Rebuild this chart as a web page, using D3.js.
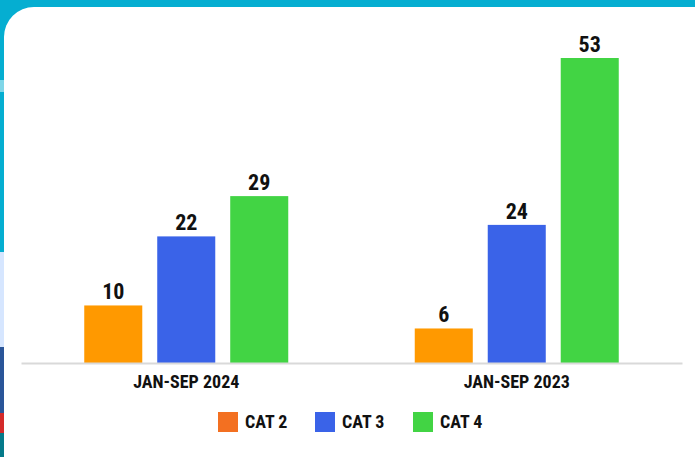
<!DOCTYPE html>
<html>
<head>
<meta charset="utf-8">
<script src="https://cdn.jsdelivr.net/npm/d3@7"></script>
<style>
  html, body { margin: 0; padding: 0; background: #05aed1; }
  svg { display: block; }
  text { font-family: "Roboto Condensed", "Liberation Sans Narrow", "Arial Narrow", Roboto, sans-serif; font-weight: bold; font-stretch: condensed; fill: #111; }
</style>
</head>
<body>
<div id="chart"></div>
<script>
// periods on the x axis and the three categories
var periods = ["JAN-SEP 2024", "JAN-SEP 2023"]
var categories = ["CAT 2", "CAT 3", "CAT 4"]

// one list per category, in period order
var cat2 = [10, 6]
var cat3 = [22, 24]
var cat4 = [29, 53]

var barColors = ["#ff9900", "#3a63e8", "#42d444"]
var legendColors = ["#f37021", "#3a63e8", "#42d444"]

var width = 695
var height = 457
var baseline = 363
var plotTop = 58

var series = [cat2, cat3, cat4]
var rows = []
periods.forEach(function(p, i) {
  categories.forEach(function(c, j) {
    rows.push({ period: p, cat: c, value: series[j][i], idx: j })
  })
})

var svg = d3.select('#chart').append('svg')
  .attr('width', width)
  .attr('height', height)

// backdrop bits peeking out behind the card on the left
var bg = svg.append('g')
bg.append('rect').attr('x', 0).attr('y', 0).attr('width', width).attr('height', height).attr('fill', '#05aed1')
bg.append('rect').attr('x', 0).attr('y', 80).attr('width', 6).attr('height', 12).attr('fill', '#7fd6e8')
bg.append('rect').attr('x', 0).attr('y', 252).attr('width', 8).attr('height', 95).attr('fill', '#d6e6ff')
bg.append('rect').attr('x', 0).attr('y', 347).attr('width', 8).attr('height', 66).attr('fill', '#2a5599')
bg.append('rect').attr('x', 0).attr('y', 413).attr('width', 8).attr('height', 20).attr('fill', '#d42a2a')
bg.append('rect').attr('x', 0).attr('y', 433).attr('width', 40).attr('height', 24).attr('fill', '#057a8a')

// white card
svg.append('rect')
  .attr('x', 4).attr('y', 7)
  .attr('width', 722).attr('height', 480)
  .attr('rx', 30).attr('ry', 30)
  .attr('fill', '#fff')

var x0 = d3.scaleBand()
  .domain(periods)
  .range([21, 682])

var x1 = d3.scaleBand()
  .domain(categories)
  .range([0, 204])
  .paddingInner(0.205)

var y = d3.scaleLinear()
  .domain([0, d3.max(rows, function(d) { return d.value })])
  .range([baseline, plotTop])

var chart = svg.append('g')

var groups = chart.selectAll('.group')
  .data(periods)
  .enter().append('g')
  .attr('class', 'group')
  .attr('transform', function(p) { return 'translate(' + (x0(p) + x0.bandwidth() / 2 - 102) + ',0)' })

groups.selectAll('rect')
  .data(function(p) { return rows.filter(function(r) { return r.period == p }) })
  .enter().append('rect')
  .attr('x', function(d) { return x1(d.cat) })
  .attr('y', function(d) { return y(d.value) })
  .attr('width', x1.bandwidth())
  .attr('height', function(d) { return baseline - y(d.value) })
  .attr('fill', function(d) { return barColors[d.idx] })

groups.selectAll('.val')
  .data(function(p) { return rows.filter(function(r) { return r.period == p }) })
  .enter().append('text')
  .attr('class', 'val')
  .attr('x', function(d) { return x1(d.cat) + x1.bandwidth() / 2 })
  .attr('y', function(d) { return y(d.value) - 6 })
  .attr('text-anchor', 'middle')
  .style('font-size', '22px')
  .text(function(d) { return d.value })

// x axis
var xAxis = chart.append('g')
  .attr('transform', 'translate(0,' + baseline + ')')
  .call(d3.axisBottom(x0).tickSize(0).tickPadding(12))
xAxis.attr('font-family', null)
xAxis.select('.domain').attr('stroke', '#d9d9d9').attr('stroke-width', 2)
xAxis.selectAll('text')
  .attr('dy', '0.71em')
  .style('font-size', '18px')
  .attr('fill', '#111')

// legend
var legendX = [218, 315, 413]
var legend = svg.append('g')
var items = legend.selectAll('g')
  .data(categories)
  .enter().append('g')
  .attr('transform', function(d, i) { return 'translate(' + legendX[i] + ',412)' })
items.append('rect')
  .attr('width', 20).attr('height', 20)
  .attr('fill', function(d, i) { return legendColors[i] })
items.append('text')
  .attr('x', 27).attr('y', 16)
  .style('font-size', '18px')
  .text(function(d) { return d })
</script>
</body>
</html>
